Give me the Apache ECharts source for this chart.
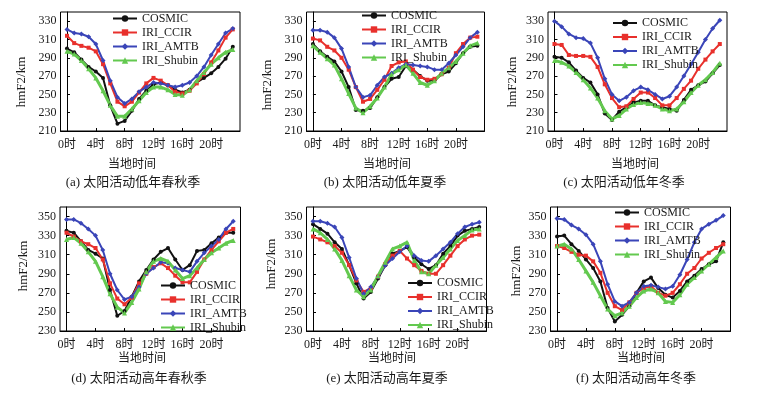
<!DOCTYPE html>
<html>
<head>
<meta charset="utf-8">
<script src="https://cdn.jsdelivr.net/npm/echarts@6/dist/echarts.min.js"></script>
<style>
  html, body { margin: 0; padding: 0; background: #fff; }
  #chart { width: 779px; height: 396px; }
</style>
</head>
<body>
<div id="chart"></div>
<script>
// 横轴：当地时间（小时）
var hours = [0,1,2,3,4,5,6,7,8,9,10,11,12,13,14,15,16,17,18,19,20,21,22,23];
var names = ['COSMIC', 'IRI_CCIR', 'IRI_AMTB', 'IRI_Shubin'];
var captions = ['(a) 太阳活动低年春秋季', '(b) 太阳活动低年夏季', '(c) 太阳活动低年冬季',
                '(d) 太阳活动高年春秋季', '(e) 太阳活动高年夏季', '(f) 太阳活动高年冬季'];
var xTicks = [0, 4, 8, 12, 16, 20];
var yTicksLow = [210, 230, 250, 270, 290, 310, 330];
var yTicksHigh = [230, 250, 270, 290, 310, 330, 350];

// (a) 低年春秋季
var cosmic_a = [300,296,288,280,275,268,238,218,221,232,245,254,261,263,260,255,252,255,263,268,273,280,289,302];
var ccir_a   = [314,306,303,301,297,283,262,242,237,242,252,262,268,265,260,253,251,254,262,272,285,298,312,321];
var amtb_a   = [321,317,316,313,305,287,265,247,240,245,253,258,263,262,260,258,260,263,270,280,293,305,317,322];
var shubin_a = [297,294,287,278,268,254,238,226,226,234,243,252,258,258,255,250,249,255,265,274,283,290,296,299];
// (b) 低年夏季
var cosmic_b = [305,297,291,286,275,258,233,232,235,247,258,267,269,281,277,270,265,265,272,275,284,295,302,303];
var ccir_b   = [311,309,302,298,290,277,258,242,245,255,266,281,285,286,277,269,266,267,272,279,295,305,312,313];
var amtb_b   = [320,320,318,312,300,280,258,247,249,260,269,273,279,283,282,281,280,277,277,284,293,302,312,318];
var shubin_b = [303,296,289,282,267,251,235,230,237,246,258,272,277,282,273,263,260,265,273,279,286,295,303,306];
// (c) 低年冬季
var cosmic_c = [291,290,285,276,268,263,250,229,222,231,236,241,243,243,238,236,234,232,244,255,260,264,273,282];
var ccir_c   = [305,304,293,292,292,291,280,261,246,236,237,245,252,252,246,238,238,246,256,265,278,288,297,305];
var amtb_c   = [330,324,316,312,311,306,290,267,250,243,247,254,258,255,250,245,248,258,270,283,296,310,322,331];
var shubin_c = [287,285,281,274,266,257,246,232,223,227,234,239,241,240,238,234,232,234,242,252,260,266,274,284];
// (d) 高年春秋季
var cosmic_d = [335,333,324,315,311,306,273,246,251,266,282,294,305,313,317,305,294,299,314,315,322,328,333,333];
var ccir_d   = [333,329,324,321,317,305,280,264,258,265,280,290,297,301,296,288,281,281,292,305,315,324,333,337];
var amtb_d   = [347,347,343,337,330,315,290,273,263,266,276,290,296,302,301,296,294,292,303,312,319,326,337,345];
var shubin_d = [326,328,322,313,303,287,269,255,249,260,274,292,303,306,303,294,285,288,296,305,312,317,322,325];
// (e) 高年夏季
var cosmic_e = [342,337,332,323,316,299,280,264,271,285,299,311,314,318,307,300,295,299,311,319,330,335,337,339];
var ccir_e   = [329,326,323,319,312,299,283,271,275,287,300,309,314,306,299,293,290,290,299,309,319,326,330,331];
var amtb_e   = [345,345,343,339,328,307,285,269,276,287,299,306,313,319,309,304,303,309,316,323,332,339,342,344];
var shubin_e = [337,333,326,316,304,288,273,266,273,288,302,316,319,323,304,292,290,299,307,316,325,330,336,337];
// (f) 高年冬季
var cosmic_f = [329,330,321,314,305,296,282,254,240,247,256,270,282,286,275,268,265,272,282,288,295,300,303,323];
var ccir_f   = [319,317,313,310,309,303,291,270,256,252,260,270,275,277,270,267,270,279,290,296,306,312,317,321];
var amtb_f   = [348,347,341,337,331,321,303,279,261,256,260,270,277,278,276,274,277,289,305,323,337,342,346,351];
var shubin_f = [319,321,316,305,293,281,267,253,246,249,256,265,272,274,270,261,260,268,279,286,293,300,307,314];

var panels = [
  [cosmic_a, ccir_a, amtb_a, shubin_a],
  [cosmic_b, ccir_b, amtb_b, shubin_b],
  [cosmic_c, ccir_c, amtb_c, shubin_c],
  [cosmic_d, ccir_d, amtb_d, shubin_d],
  [cosmic_e, ccir_e, amtb_e, shubin_e],
  [cosmic_f, ccir_f, amtb_f, shubin_f]
];

var FONT = '"Liberation Serif", "Noto Sans CJK SC", serif';
var TXT = '#1a1a1a';
var colors = ['#111111', '#e8302c', '#3a45b8', '#63c94f'];
var symbols = ['circle', 'rect', 'diamond', 'triangle'];
var symSizes = [4, 4, 5, 5];
var widths = [2, 2, 2, 3];

var grids = [
  {left: 60.5, top: 12, width: 179.5, height: 119},
  {left: 306.5, top: 12, width: 178, height: 119},
  {left: 548, top: 12, width: 179, height: 119},
  {left: 60, top: 207, width: 180.5, height: 124},
  {left: 306.5, top: 207, width: 180, height: 124},
  {left: 550.5, top: 207, width: 180, height: 124}
];
var legendPos = [
  {left: 112, top: 12}, {left: 361, top: 9}, {left: 612, top: 16.5},
  {left: 160, top: 279}, {left: 407, top: 276.5}, {left: 614, top: 206}
];
var yTitlePos = [[22, 82], [268, 85], [513, 82], [24, 266], [272, 264], [517, 271]];
var xNamePos = [[132, 165], [387, 165], [635, 165], [142, 359], [392, 359], [641, 359]];
var capPos = [[133, 183], [385, 183], [624, 183], [139, 379], [387, 379], [636, 379]];

var option = {
  animation: false,
  grid: [], xAxis: [], yAxis: [], legend: [], series: [], graphic: []
};

for (var i = 0; i < 6; i++) {
  var low = i < 3;
  var g = grids[i];
  option.grid.push({
    left: g.left, top: g.top, width: g.width, height: g.height,
    show: true, borderColor: '#000', borderWidth: 1, backgroundColor: 'transparent'
  });
  option.xAxis.push({
    type: 'value', gridIndex: i, min: -0.9, max: 24,
    axisLine: {lineStyle: {color: '#000', width: 1}},
    axisTick: {inside: true, length: 3, customValues: xTicks, lineStyle: {color: '#000'}},
    axisLabel: {customValues: xTicks, color: TXT, fontFamily: FONT, fontSize: 12, margin: 8,
      formatter: function (v) { return v + '时'; }},
    splitLine: {show: false}
  });
  var yt = low ? yTicksLow : yTicksHigh;
  option.yAxis.push({
    type: 'value', gridIndex: i, min: low ? 210 : 230, max: low ? 340 : 360,
    axisLine: {show: true, lineStyle: {color: '#000', width: 1}},
    axisTick: {show: true, inside: true, length: 3, customValues: yt, lineStyle: {color: '#000'}},
    axisLabel: {customValues: yt, color: TXT, fontFamily: FONT, fontSize: 12, margin: 4},
    splitLine: {show: false}
  });
  option.legend.push({
    orient: 'vertical', left: legendPos[i].left, top: legendPos[i].top,
    data: names, selectedMode: false, padding: 0,
    itemWidth: 24, itemHeight: 8, itemGap: 1,
    textStyle: {color: TXT, fontFamily: FONT, fontSize: 12, lineHeight: 13}
  });
  for (var s = 0; s < 4; s++) {
    var vals = panels[i][s];
    option.series.push({
      name: names[s], type: 'line', xAxisIndex: i, yAxisIndex: i,
      data: hours.map(function (h, k) { return [h, vals[k]]; }),
      symbol: symbols[s], symbolSize: symSizes[s], showAllSymbol: true,
      lineStyle: {color: colors[s], width: widths[s]},
      itemStyle: {color: colors[s]},
      emphasis: {disabled: true}
    });
  }
  option.graphic.push({
    type: 'text', x: yTitlePos[i][0], y: yTitlePos[i][1], rotation: Math.PI / 2,
    style: {text: 'hmF2/km', font: '13px ' + FONT, fill: TXT, align: 'center', verticalAlign: 'middle'}
  });
  option.graphic.push({
    type: 'text', x: xNamePos[i][0], y: xNamePos[i][1],
    style: {text: '当地时间', font: '12px ' + FONT, fill: TXT, align: 'center', verticalAlign: 'middle'}
  });
  option.graphic.push({
    type: 'text', x: capPos[i][0], y: capPos[i][1],
    style: {text: captions[i], font: '13px ' + FONT, fill: TXT, align: 'center', verticalAlign: 'middle'}
  });
}

var chart = echarts.init(document.getElementById('chart'), null, {renderer: 'canvas'});
chart.setOption(option);
</script>
</body>
</html>
